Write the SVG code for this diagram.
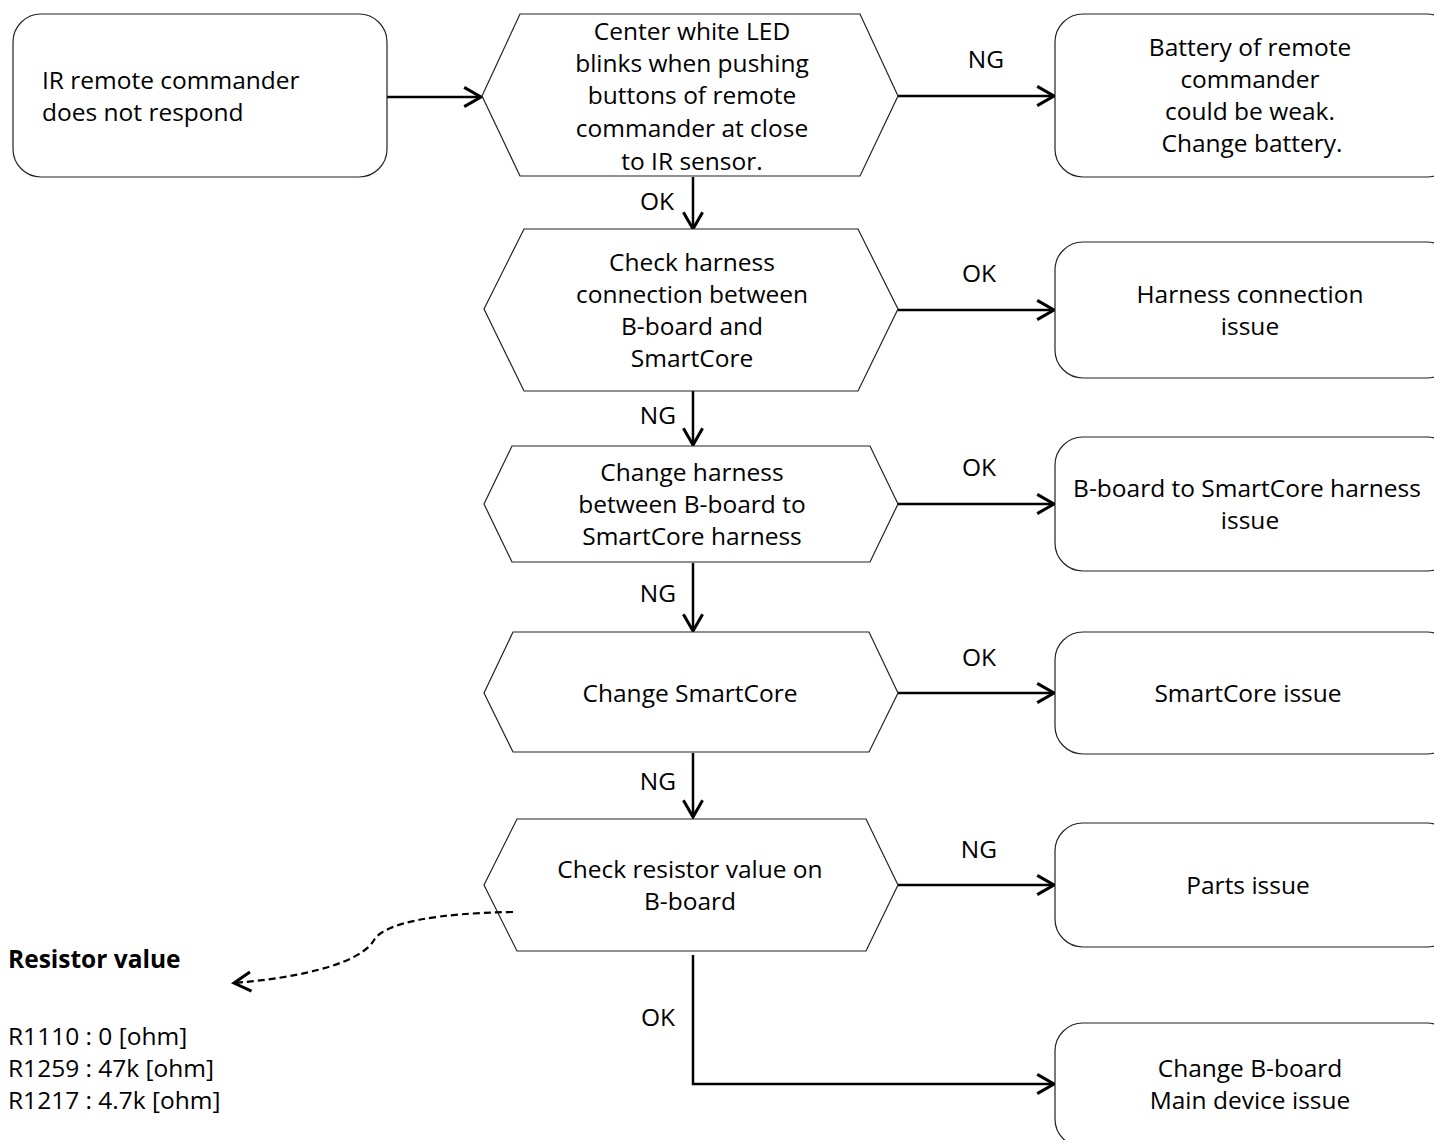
<svg xmlns="http://www.w3.org/2000/svg" width="1434" height="1140" viewBox="0 0 1434 1140">
<style>
text{font-family:"Open Sans","Noto Sans","Liberation Sans",sans-serif;font-size:24.5px;fill:#000;text-anchor:middle}
.l{text-anchor:start}
.b{font-weight:bold}
.box{fill:#fff;stroke:#222;stroke-width:1.2}
.hex{fill:#fff;stroke:#222;stroke-width:1.2}
.c{fill:none;stroke:#000;stroke-width:2.5}
.d{fill:none;stroke:#000;stroke-width:2.2;stroke-dasharray:7,4}
</style>
<defs>
<marker id="ah" markerUnits="userSpaceOnUse" markerWidth="24" markerHeight="24" viewBox="-16 -10 20 20" refX="0" refY="0" orient="auto">
<path d="M-14,-8 L0,0 L-14,8" fill="none" stroke="#000" stroke-width="2.5"/>
</marker>
</defs>
<g id="connectors">
<path class="c" d="M387,97 L481,97" marker-end="url(#ah)"/>
<path class="c" d="M898,96 L1054,96" marker-end="url(#ah)"/>
<path class="c" d="M693,177 L693,229" marker-end="url(#ah)"/>
<path class="c" d="M898,310 L1054,310" marker-end="url(#ah)"/>
<path class="c" d="M693,391 L693,445" marker-end="url(#ah)"/>
<path class="c" d="M898,504 L1054,504" marker-end="url(#ah)"/>
<path class="c" d="M693,563 L693,631" marker-end="url(#ah)"/>
<path class="c" d="M898,693 L1054,693" marker-end="url(#ah)"/>
<path class="c" d="M693,753 L693,817" marker-end="url(#ah)"/>
<path class="c" d="M898,885 L1054,885" marker-end="url(#ah)"/>
<path class="c" d="M693,955 L693,1084 L1054,1084" marker-end="url(#ah)"/>
<text x="986" y="68">NG</text>
<text x="657" y="210">OK</text>
<text x="979" y="282">OK</text>
<text x="658" y="424">NG</text>
<text x="979" y="476">OK</text>
<text x="658" y="602">NG</text>
<text x="979" y="666">OK</text>
<text x="658" y="790">NG</text>
<text x="979" y="858">NG</text>
<text x="658" y="1026">OK</text>
</g>
<g id="start">
<rect class="box" x="13" y="14" width="374" height="163" rx="28"/>
<text class="l" x="42" y="89">IR remote commander</text>
<text class="l" x="42" y="121">does not respond</text>
</g>
<g id="hex1">
<polygon class="hex" points="482,96 520,14 860,14 898,96 860,176 520,176"/>
<text x="692" y="40">Center white LED</text>
<text x="692" y="72">blinks when pushing</text>
<text x="692" y="104">buttons of remote</text>
<text x="692" y="137">commander at close</text>
<text x="692" y="170">to IR sensor.</text>
</g>
<g id="hex2">
<polygon class="hex" points="484,309 524,229 858,229 898,309 858,391 524,391"/>
<text x="692" y="271">Check harness</text>
<text x="692" y="303">connection between</text>
<text x="692" y="335">B-board and</text>
<text x="692" y="367">SmartCore</text>
</g>
<g id="hex3">
<polygon class="hex" points="484,504 512,446 870,446 898,504 870,562 512,562"/>
<text x="692" y="481">Change harness</text>
<text x="692" y="513">between B-board to</text>
<text x="692" y="545">SmartCore harness</text>
</g>
<g id="hex4">
<polygon class="hex" points="484,693 513,632 869,632 898,693 869,752 513,752"/>
<text x="690" y="702">Change SmartCore</text>
</g>
<g id="hex5">
<polygon class="hex" points="484,885 517,819 866,819 898,885 866,951 517,951"/>
<text x="690" y="878">Check resistor value on</text>
<text x="690" y="910">B-board</text>
</g>
<g id="box1">
<rect class="box" x="1055" y="14" width="400" height="163" rx="28"/>
<text x="1250" y="56">Battery of remote</text>
<text x="1250" y="88">commander</text>
<text x="1250" y="120">could be weak.</text>
<text x="1252" y="152">Change battery.</text>
</g>
<g id="box2">
<rect class="box" x="1055" y="242" width="400" height="136" rx="28"/>
<text x="1250" y="303">Harness connection</text>
<text x="1250" y="335">issue</text>
</g>
<g id="box3">
<rect class="box" x="1055" y="437" width="400" height="134" rx="28"/>
<text x="1247" y="497">B-board to SmartCore harness</text>
<text x="1250" y="529">issue</text>
</g>
<g id="box4">
<rect class="box" x="1055" y="632" width="400" height="122" rx="28"/>
<text x="1248" y="702">SmartCore issue</text>
</g>
<g id="box5">
<rect class="box" x="1055" y="823" width="400" height="124" rx="28"/>
<text x="1248" y="894">Parts issue</text>
</g>
<g id="box6">
<rect class="box" x="1055" y="1023" width="400" height="124" rx="28"/>
<text x="1250" y="1077">Change B-board</text>
<text x="1250" y="1109">Main device issue</text>
</g>
<g id="note">
<path class="d" d="M513,912 C440,913 385,922 374,940 C366,955 330,975 234,983" marker-end="url(#ah)"/>
<text class="l b" x="8" y="968">Resistor value</text>
<text class="l" x="8" y="1045">R1110 : 0 [ohm]</text>
<text class="l" x="8" y="1077">R1259 : 47k [ohm]</text>
<text class="l" x="8" y="1109">R1217 : 4.7k [ohm]</text>
</g>
</svg>
